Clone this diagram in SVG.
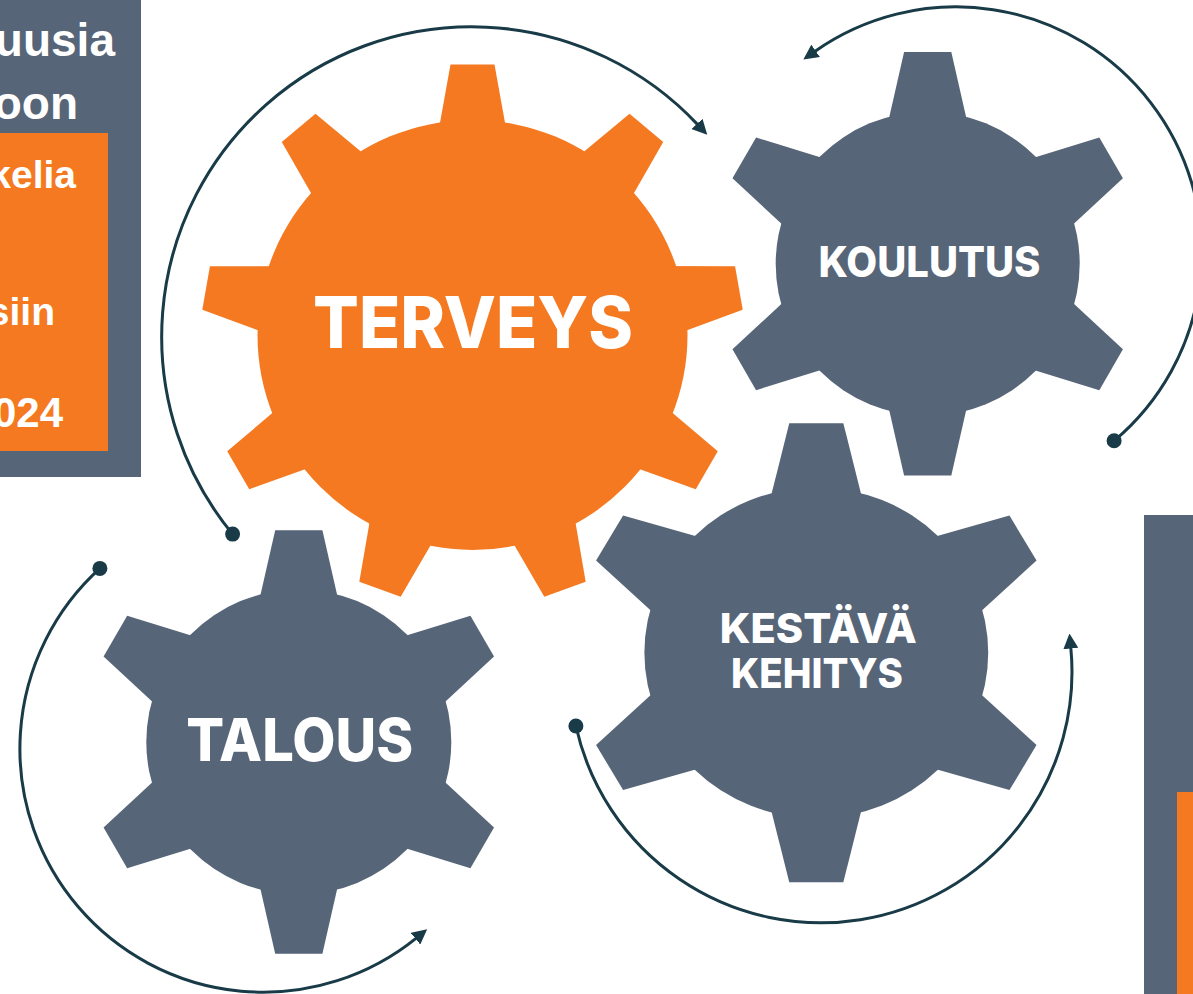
<svg xmlns="http://www.w3.org/2000/svg" xmlns:xlink="http://www.w3.org/1999/xlink" width="1193" height="994" viewBox="0 0 1193 994">
<style>
.gray{fill:#566577}
.orange{fill:#F47920}
.gtext{font-family:Inter,"Liberation Sans",sans-serif;font-weight:800;fill:#ffffff;text-anchor:middle}
.side{font-family:"Liberation Sans",Arial,sans-serif;font-weight:bold;fill:#ffffff;text-anchor:end}
.conn{fill:none;stroke:#183B47;stroke-width:3}
.dot{fill:#183B47}
</style>
<defs>
<marker id="arrow" markerUnits="userSpaceOnUse" markerWidth="15" markerHeight="15" viewBox="0 0 15 15" refX="1" refY="7.5" orient="auto">
<path d="M0,0 L15,7.5 L0,15 Z" fill="#183B47"/>
</marker>
<polygon id="toothS" points="-44.5,-120 -23.6,-211.8 23.6,-211.8 44.5,-120"/>
<polygon id="toothL" points="-38.3,-180 -22,-270.5 22,-270.5 38.3,-180"/>
<polygon id="toothM" points="-50,-130 -26,-229.5 26,-229.5 50,-130"/>
</defs>
<rect width="1193" height="994" fill="#ffffff"/>
<g id="left-panel">
<rect x="0" y="0" width="141" height="477" class="gray"/>
<rect x="0" y="133" width="108" height="318" class="orange"/>
<text class="side" x="115" y="56" font-size="46">uusia</text>
<text class="side" x="78" y="119" font-size="46">oon</text>
<text class="side" x="76" y="188" font-size="39">kelia</text>
<text class="side" x="55" y="325" font-size="39">siin</text>
<text class="side" x="63" y="427" font-size="42">024</text>
</g>
<g id="right-panel">
<rect x="1144" y="515" width="49" height="479" class="gray"/>
<rect x="1177" y="792" width="16" height="202" class="orange"/>
</g>
<g id="terveys">
<g class="orange" transform="translate(472.5,335)">
<circle r="215"/>
<use xlink:href="#toothL"/>
<use xlink:href="#toothL" transform="rotate(40)"/>
<use xlink:href="#toothL" transform="rotate(80)"/>
<use xlink:href="#toothL" transform="rotate(120)"/>
<use xlink:href="#toothL" transform="rotate(160)"/>
<use xlink:href="#toothL" transform="rotate(200)"/>
<use xlink:href="#toothL" transform="rotate(240)"/>
<use xlink:href="#toothL" transform="rotate(280)"/>
<use xlink:href="#toothL" transform="rotate(320)"/>
</g>
<text class="gtext" x="473" y="348" font-size="72" textLength="320" lengthAdjust="spacingAndGlyphs">TERVEYS</text>
</g>
<g id="koulutus">
<g class="gray" transform="translate(927.7,263.8)">
<circle r="152"/>
<use xlink:href="#toothS"/>
<use xlink:href="#toothS" transform="rotate(60)"/>
<use xlink:href="#toothS" transform="rotate(120)"/>
<use xlink:href="#toothS" transform="rotate(180)"/>
<use xlink:href="#toothS" transform="rotate(240)"/>
<use xlink:href="#toothS" transform="rotate(300)"/>
</g>
<text class="gtext" x="929.5" y="277" font-size="42" textLength="222" lengthAdjust="spacingAndGlyphs">KOULUTUS</text>
</g>
<g id="talous">
<g class="gray" transform="translate(298.8,742)">
<circle r="152.5"/>
<use xlink:href="#toothS"/>
<use xlink:href="#toothS" transform="rotate(60)"/>
<use xlink:href="#toothS" transform="rotate(120)"/>
<use xlink:href="#toothS" transform="rotate(180)"/>
<use xlink:href="#toothS" transform="rotate(240)"/>
<use xlink:href="#toothS" transform="rotate(300)"/>
</g>
<text class="gtext" x="299.7" y="761" font-size="59" textLength="227" lengthAdjust="spacingAndGlyphs">TALOUS</text>
</g>
<g id="kestava-kehitys">
<g class="gray" transform="translate(816.3,652.8) scale(1.04,1)">
<circle r="165.3"/>
<use xlink:href="#toothM"/>
<use xlink:href="#toothM" transform="rotate(60)"/>
<use xlink:href="#toothM" transform="rotate(120)"/>
<use xlink:href="#toothM" transform="rotate(180)"/>
<use xlink:href="#toothM" transform="rotate(240)"/>
<use xlink:href="#toothM" transform="rotate(300)"/>
</g>
<text class="gtext" x="818.3" y="643.3" font-size="41" textLength="197" lengthAdjust="spacingAndGlyphs">KESTÄVÄ</text>
<text class="gtext" x="817" y="688.3" font-size="41" textLength="172" lengthAdjust="spacingAndGlyphs">KEHITYS</text>
</g>
<g id="connectors">
<path class="conn" d="M232.6,534.1 A310,310 0 0 1 697.7,124.6" marker-end="url(#arrow)"/>
<circle class="dot" cx="232.6" cy="534.1" r="7.5"/>
<path class="conn" d="M1114.1,440.8 A245.8,245.8 0 0 0 814.8,51.4" marker-end="url(#arrow)"/>
<circle class="dot" cx="1114.1" cy="440.8" r="7.5"/>
<path class="conn" d="M99.9,568.4 A243.4,243.4 0 0 0 416.3,938.1" marker-end="url(#arrow)"/>
<circle class="dot" cx="99.9" cy="568.4" r="7.5"/>
<path class="conn" d="M575.9,726 A251,251 0 0 0 1070.8,647.5" marker-end="url(#arrow)"/>
<circle class="dot" cx="575.9" cy="726" r="7.5"/>
</g>
</svg>
